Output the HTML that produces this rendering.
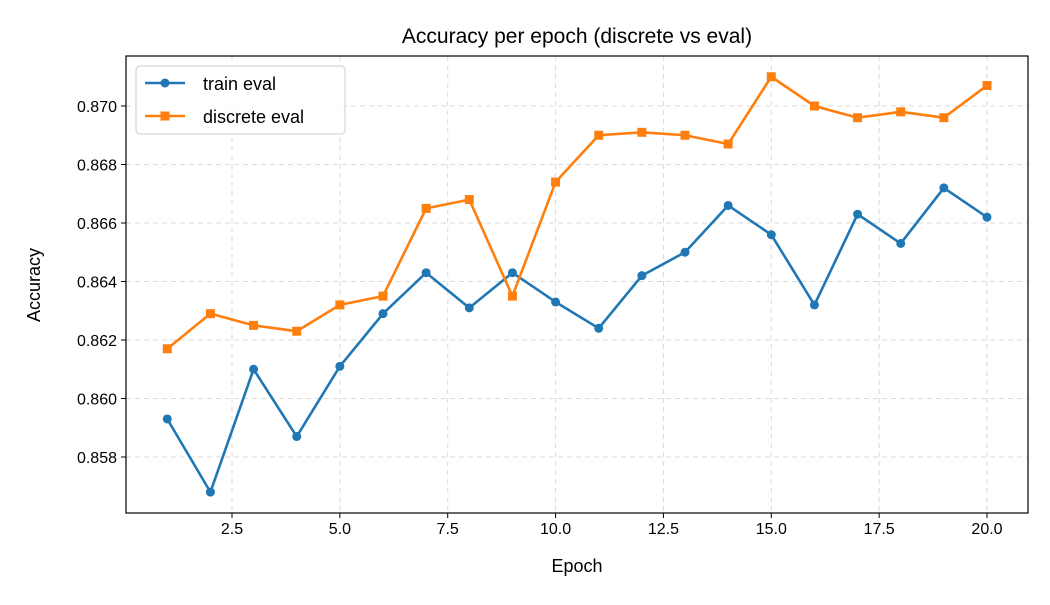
<!DOCTYPE html>
<html><head><meta charset="utf-8"><style>
body{margin:0;background:#fff;}
svg text{font-family:"Liberation Sans","DejaVu Sans",sans-serif;fill:#000;}
</style></head><body>
<svg id="chart" width="1050" height="600" viewBox="0 0 1050 600"></svg>
<script>
const epochs=[1,2,3,4,5,6,7,8,9,10,11,12,13,14,15,16,17,18,19,20];
const trainEval=[0.8593,0.8568,0.8610,0.8587,0.8611,0.8629,0.8643,0.8631,0.8643,0.8633,0.8624,0.8642,0.8650,0.8666,0.8656,0.8632,0.8663,0.8653,0.8672,0.8662];
const discreteEval=[0.8617,0.8629,0.8625,0.8623,0.8632,0.8635,0.8665,0.8668,0.8635,0.8674,0.8690,0.8691,0.8690,0.8687,0.8710,0.8700,0.8696,0.8698,0.8696,0.8707];
const xTicks=[2.5,5.0,7.5,10.0,12.5,15.0,17.5,20.0];
const yTicks=[0.858,0.860,0.862,0.864,0.866,0.868,0.870];
const L=126,R=1028,T=56,B=513;
const sx=v=>232+(v-2.5)*(987-232)/17.5;
const sy=v=>106+(0.870-v)*29250;
const svg=document.getElementById('chart');
const NS='http://www.w3.org/2000/svg';
function mk(tag,attrs,parent){const e=document.createElementNS(NS,tag);for(const k in attrs)e.setAttribute(k,attrs[k]);(parent||svg).appendChild(e);return e;}
// grid
const grid=mk('g',{});


xTicks.forEach(t=>{mk('line',{x1:sx(t),x2:sx(t),y1:T,y2:B,stroke:'#d9d9d9','stroke-dasharray':'5,4','stroke-width':1},grid);});
yTicks.forEach(t=>{mk('line',{x1:L,x2:R,y1:sy(t),y2:sy(t),stroke:'#d9d9d9','stroke-dasharray':'5,4','stroke-width':1},grid);});
// ticks
const xa=mk('g',{});


xTicks.forEach(t=>{const x=sx(t);mk('line',{x1:x,x2:x,y1:B,y2:B+5,stroke:'#000'},xa);const tx=mk('text',{x:x,y:B+21,'text-anchor':'middle','font-size':16},xa);tx.textContent=t.toFixed(1);});
const ya=mk('g',{});


yTicks.forEach(t=>{const y=sy(t);mk('line',{x1:L-5,x2:L,y1:y,y2:y,stroke:'#000'},ya);const tx=mk('text',{x:L-9,y:y+6,'text-anchor':'end','font-size':16},ya);tx.textContent=t.toFixed(3);});
// series
function series(vals,color,marker,name){
  const g=mk('g',{});
  
  
  mk('polyline',{points:vals.map((v,i)=>sx(epochs[i])+','+sy(v)).join(' '),fill:'none',stroke:color,'stroke-width':2.6,'stroke-linejoin':'round'},g);
  vals.forEach((v,i)=>{const x=sx(epochs[i]),y=sy(v);
    if(marker==='o')mk('circle',{cx:x,cy:y,r:4.5,fill:color},g);
    else mk('rect',{x:x-4.5,y:y-4.5,width:9,height:9,fill:color},g);});
}
series(trainEval,'#1f77b4','o','train-eval-series');
series(discreteEval,'#ff7f0e','s','discrete-eval-series');
mk('rect',{x:L,y:T,width:R-L,height:B-T,fill:'none',stroke:'#000','stroke-width':1.2});
</script>
<svg width="1050" height="600" style="position:absolute;left:0;top:0">
<text x="577" y="43" text-anchor="middle" font-size="21">Accuracy per epoch (discrete vs eval)</text>
<text x="577" y="572" text-anchor="middle" font-size="18">Epoch</text>
<text x="40" y="285" text-anchor="middle" font-size="18" transform="rotate(-90 40 285)">Accuracy</text>
<g>
<rect x="136" y="66" width="209" height="68" rx="4" fill="#fff" fill-opacity="0.85" stroke="#ccc"/>
<g>
<line x1="145" x2="185" y1="83" y2="83" stroke="#1f77b4" stroke-width="2.6"/><circle cx="165" cy="83" r="4.5" fill="#1f77b4"/>
<text x="203" y="90" font-size="18">train eval</text></g>
<g>
<line x1="145" x2="185" y1="116" y2="116" stroke="#ff7f0e" stroke-width="2.6"/><rect x="160.5" y="111.5" width="9" height="9" fill="#ff7f0e"/>
<text x="203" y="123" font-size="18">discrete eval</text></g>
</g>
</svg>
</body></html>
